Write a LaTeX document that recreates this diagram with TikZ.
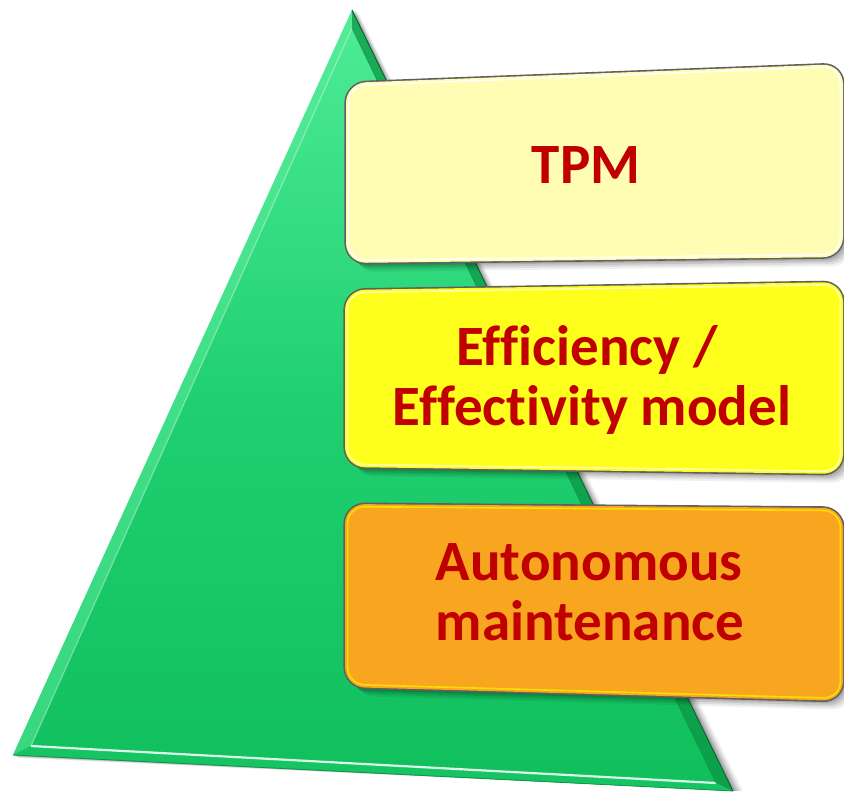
\documentclass[tikz,border=0pt]{standalone}
\usepackage{fontspec}
\setmainfont[Ligatures=NoCommon]{Carlito}
\usetikzlibrary{calc}
\definecolor{trtop}{RGB}{78,236,150}
\definecolor{trmid}{RGB}{32,208,112}
\definecolor{trbot}{RGB}{16,190,92}
\definecolor{bevlight}{RGB}{90,235,155}
\definecolor{bevdark}{RGB}{12,150,70}
\definecolor{bevbot}{RGB}{22,196,100}
\definecolor{boxA}{RGB}{255,252,180}
\definecolor{boxB}{RGB}{255,255,30}
\definecolor{boxC}{RGB}{248,166,32}
\definecolor{txtred}{RGB}{192,0,0}
\definecolor{rimgray}{RGB}{95,95,95}
\tikzset{
  lbl/.style={anchor=base,inner sep=0pt,text=txtred,font=\bfseries\fontsize{57}{60}\selectfont},
  boxrim/.style={draw=rimgray,line width=3.2pt,rounded corners=20pt},
  boxhl/.style={line width=1.6pt,rounded corners=17pt}
}
\newcommand{\glassbox}[6]{%
  \foreach \d/\o in {9/0.06,7/0.08,5/0.10,3/0.12}{
    \fill[black,opacity=\o,rounded corners=20pt] ($#1+(\d,\d)$) -- ($#2+(\d,\d)$) -- ($#3+(\d,\d)$) -- ($#4+(\d,\d)$) -- cycle;
  }
  \draw[boxrim] #1 -- #2 -- #3 -- #4 -- cycle;
  \fill[#5,rounded corners=20pt] #1 -- #2 -- #3 -- #4 -- cycle;
  \draw[boxhl,draw=#6] ($#1+(2.6,2.6)$) -- ($#2+(-2.6,2.6)$) -- ($#3+(-2.6,-2.6)$) -- ($#4+(2.6,-2.6)$) -- cycle;
}
\begin{document}
\begin{tikzpicture}[x=1pt,y=-1pt]
\useasboundingbox (0,0) rectangle (844,793);
\coordinate (A) at (352,10);
\coordinate (L) at (13,755);
\coordinate (R) at (733,791);
\coordinate (Ai) at (352,28);
\coordinate (Li) at (31,746);
\coordinate (Ri) at (716,783);
\foreach \d/\o in {10/0.05,8/0.07,6/0.09,4/0.11,2/0.13}{
  \fill[black,opacity=\o] ($(A)+(\d*0.6,\d*0.2)$) -- ($(R)+(\d,0)$) -- ($(L)+(\d*0.5,\d*0.3)$) -- cycle;
}
\shade[top color=trtop,bottom color=trbot,middle color=trmid] (A) -- (R) -- (L) -- cycle;
\fill[bevlight,opacity=0.55] (A) -- (L) -- (Li) -- (Ai) -- cycle;
\fill[bevdark,opacity=0.75] (A) -- (R) -- (Ri) -- (Ai) -- cycle;
\fill[bevbot] (L) -- (R) -- (Ri) -- (Li) -- cycle;
\draw[white,opacity=0.85,line width=2.2pt] (Li) -- (Ri);
\draw[white,opacity=0.35,line width=1.2pt] (Ai) -- (Li);
\draw[bevdark,opacity=0.6,line width=1pt] (Ai) -- (Ri);
\draw[bevdark,line width=0.8pt] (L) -- (R);
\draw[bevdark!70!black,line width=1pt] (A) -- (R);
\coordinate (b1tl) at (346,83);  \coordinate (b1tr) at (843,64);
\coordinate (b1br) at (843,257); \coordinate (b1bl) at (346,263);
\coordinate (b2tl) at (345,290); \coordinate (b2tr) at (843,282);
\coordinate (b2br) at (843,474); \coordinate (b2bl) at (345,467);
\coordinate (b3tl) at (345,504); \coordinate (b3tr) at (843,508);
\coordinate (b3br) at (843,701); \coordinate (b3bl) at (345,687);
\glassbox{(b1tl)}{(b1tr)}{(b1br)}{(b1bl)}{boxA}{white!85!boxA}
\glassbox{(b2tl)}{(b2tr)}{(b2br)}{(b2bl)}{boxB}{white!60!boxB}
\glassbox{(b3tl)}{(b3tr)}{(b3br)}{(b3bl)}{boxC}{yellow!80!orange}
\node[lbl] (t1) at (586,183) {TPM};
\node[lbl] (t2a) at (587,365) {Efficiency /};
\node[lbl] (t2b) at (592,425) {Effectivity model};
\node[lbl] (t3a) at (589,580) {Autonomous};
\node[lbl] (t3b) at (590,640) {maintenance};
\end{tikzpicture}
\end{document}
